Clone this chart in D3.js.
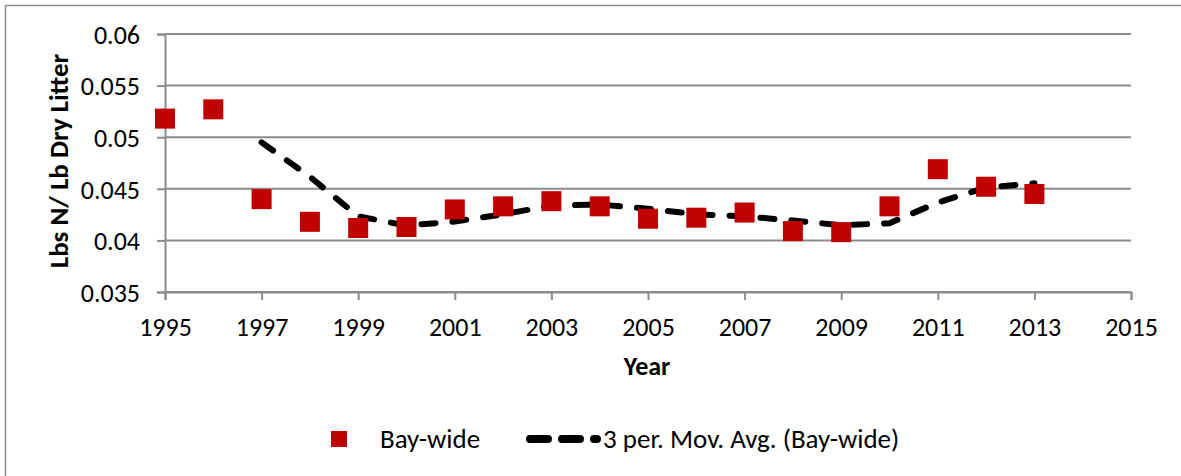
<!DOCTYPE html>
<html>
<head>
<meta charset="utf-8">
<script src="https://cdn.jsdelivr.net/npm/d3@7/dist/d3.min.js"></script>
<style>
  html, body { margin: 0; padding: 0; background: #fff; }
  svg { display: block; }
  text { font-family: Carlito, Calibri, Lato, "Liberation Sans", sans-serif; fill: #000; }
</style>
</head>
<body>
<svg id="chart" width="1181" height="476"></svg>
<script>
// Nitrogen content of dry poultry litter, bay-wide, by year
const years = [1995, 1996, 1997, 1998, 1999, 2000, 2001, 2002, 2003, 2004,
               2005, 2006, 2007, 2008, 2009, 2010, 2011, 2012, 2013];
const bayWide = [0.0518, 0.0527, 0.0440, 0.0418, 0.0412, 0.0413, 0.0430, 0.0433, 0.0438, 0.0433,
                 0.0421, 0.0422, 0.0427, 0.0409, 0.0408, 0.0433, 0.0469, 0.0452, 0.0445];
// 3-period moving average (starts at the third year)
const movAvgYears = [1997, 1998, 1999, 2000, 2001, 2002, 2003, 2004, 2005, 2006,
                     2007, 2008, 2009, 2010, 2011, 2012, 2013];
const movAvg = [0.04950, 0.04617, 0.04233, 0.04143, 0.04183, 0.04253, 0.04337, 0.04347, 0.04307,
                0.04253, 0.04233, 0.04193, 0.04147, 0.04167, 0.04367, 0.04513, 0.04553];
const yTicks = [0.035, 0.04, 0.045, 0.05, 0.055, 0.06];
const xTicks = [1995, 1997, 1999, 2001, 2003, 2005, 2007, 2009, 2011, 2013, 2015];
const yTickLabels = ["0.035", "0.04", "0.045", "0.05", "0.055", "0.06"];

const svg = d3.select("#chart");
const gridColor = "#8c8c8c";

// outer chart frame
svg.append("rect")
  .attr("x", 5.5).attr("y", 5.5)
  .attr("width", 1200).attr("height", 500)
  .attr("fill", "none").attr("stroke", gridColor).attr("stroke-width", 1.5);

const x = d3.scaleLinear().domain([1995, 2015]).range([165, 1131]);
const y = d3.scaleLinear().domain([0.035, 0.06]).range([292, 34]);

// horizontal gridlines
svg.append("g")
  .selectAll("line")
  .data(yTicks)
  .join("line")
  .attr("x1", x(1995)).attr("x2", x(2015))
  .attr("y1", d => y(d)).attr("y2", d => y(d))
  .attr("stroke", gridColor).attr("stroke-width", 2);

// y axis
const yAxis = svg.append("g")
  .attr("transform", `translate(${x(1995)},0)`)
  .call(d3.axisLeft(y).tickValues(yTicks)
    .tickFormat((d, i) => yTickLabels[i])
    .tickSize(8).tickPadding(17));
yAxis.select(".domain").attr("stroke", gridColor).attr("stroke-width", 2);
yAxis.selectAll(".tick line").attr("stroke", gridColor).attr("stroke-width", 2);
yAxis.selectAll(".tick text").style("font-size", "26px").attr("dy", "0.36em");

// x axis
const xAxis = svg.append("g")
  .attr("transform", `translate(0,${y(0.035)})`)
  .call(d3.axisBottom(x).tickValues(xTicks).tickFormat(d3.format("d"))
    .tickSize(8).tickPadding(18));
xAxis.select(".domain").attr("stroke", gridColor).attr("stroke-width", 2);
xAxis.selectAll(".tick line").attr("stroke", gridColor).attr("stroke-width", 2);
xAxis.selectAll(".tick text").style("font-size", "26px");

// axis titles
svg.append("text")
  .attr("transform", "translate(68,161) rotate(-90)")
  .attr("text-anchor", "middle")
  .style("font-size", "27px").style("font-weight", "bold")
  .text("Lbs N/ Lb Dry Litter");
svg.append("text")
  .attr("x", 647).attr("y", 375)
  .attr("text-anchor", "middle")
  .style("font-size", "26px").style("font-weight", "bold")
  .text("Year");

// moving average trendline
const line = d3.line()
  .x((d, i) => x(movAvgYears[i]))
  .y(d => y(d));
svg.append("path")
  .datum(movAvg)
  .attr("d", line)
  .attr("fill", "none")
  .attr("stroke", "#000")
  .attr("stroke-width", 6)
  .attr("stroke-linecap", "round")
  .attr("stroke-dasharray", "14,17");

// data markers
const size = 20;
svg.append("g")
  .selectAll("rect")
  .data(bayWide)
  .join("rect")
  .attr("x", (d, i) => x(years[i]) - size / 2)
  .attr("y", d => y(d) - size / 2)
  .attr("width", size).attr("height", size)
  .attr("fill", "#c00000");

// legend
const legend = svg.append("g");
legend.append("rect")
  .attr("x", 331).attr("y", 431).attr("width", 16).attr("height", 16)
  .attr("fill", "#c00000");
legend.append("text")
  .attr("x", 380).attr("y", 448)
  .style("font-size", "27px")
  .text("Bay-wide");
legend.append("line")
  .attr("x1", 530).attr("x2", 597)
  .attr("y1", 439).attr("y2", 439)
  .attr("stroke", "#000").attr("stroke-width", 8)
  .attr("stroke-linecap", "round")
  .attr("stroke-dasharray", "18,14");
legend.append("text")
  .attr("x", 603).attr("y", 448)
  .style("font-size", "27px")
  .text("3 per. Mov. Avg. (Bay-wide)");
</script>
</body>
</html>
